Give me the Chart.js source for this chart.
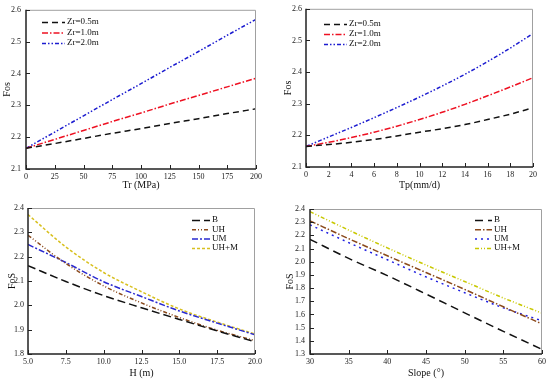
<!DOCTYPE html>
<html><head><meta charset="utf-8">
<script src="https://cdn.jsdelivr.net/npm/chart.js@4.4.1/dist/chart.umd.min.js"></script>
<style>
html,body{margin:0;padding:0;background:#fff;}
body{width:550px;height:380px;position:relative;overflow:hidden;}
canvas{position:absolute;display:block;}
</style></head><body>
<canvas id="c1" width="275" height="192" style="left:0;top:0"></canvas>
<canvas id="c2" width="275" height="192" style="left:275px;top:0"></canvas>
<canvas id="c3" width="275" height="188" style="left:0;top:192px"></canvas>
<canvas id="c4" width="275" height="188" style="left:275px;top:192px"></canvas>
<script>
// ---- Data ----
const trValues = [0, 25, 50, 75, 100, 125, 150, 175, 200];
const trZr05 = [2.165, 2.180, 2.196, 2.212, 2.227, 2.243, 2.258, 2.274, 2.289];
const trZr10 = [2.165, 2.193, 2.221, 2.249, 2.276, 2.304, 2.331, 2.358, 2.385];
const trZr20 = [2.165, 2.216, 2.267, 2.318, 2.368, 2.419, 2.469, 2.520, 2.570];

const tpValues = [0, 2, 4, 6, 8, 10, 12, 14, 16, 18, 20];
const tpZr05 = [2.165, 2.171, 2.178, 2.187, 2.198, 2.210, 2.221, 2.234, 2.250, 2.267, 2.287];
const tpZr10 = [2.165, 2.178, 2.193, 2.210, 2.229, 2.250, 2.273, 2.298, 2.325, 2.353, 2.382];
const tpZr20 = [2.165, 2.195, 2.225, 2.256, 2.288, 2.321, 2.356, 2.393, 2.433, 2.476, 2.522];

const hValues = [5, 7.5, 10, 12.5, 15, 17.5, 20];
const hB   = [2.163, 2.098, 2.040, 1.990, 1.942, 1.895, 1.850];
const hUH  = [2.288, 2.172, 2.080, 2.010, 1.950, 1.898, 1.855];
const hUM  = [2.250, 2.176, 2.097, 2.036, 1.977, 1.927, 1.879];
const hUHM = [2.373, 2.240, 2.135, 2.056, 1.985, 1.931, 1.882];

const slopeValues = [30, 35, 40, 45, 50, 55, 60];
const sB   = [2.170, 2.025, 1.895, 1.755, 1.612, 1.472, 1.335];
const sUH  = [2.310, 2.175, 2.045, 1.918, 1.790, 1.658, 1.528];
const sUM  = [2.280, 2.145, 2.015, 1.885, 1.765, 1.650, 1.552];
const sUHM = [2.380, 2.240, 2.105, 1.975, 1.850, 1.725, 1.610];

const zrLabels = ['Zr=0.5m', 'Zr=1.0m', 'Zr=2.0m'];
const caseLabels = ['B', 'UH', 'UM', 'UH+M'];

// ---- Plugins ----
const framePlugin = {
  id: 'frame',
  afterDatasetsDraw(chart) {
    const {left, right, top, bottom} = chart.chartArea;
    const ctx = chart.ctx;
    ctx.save();
    ctx.setLineDash([]);
    ctx.strokeStyle = '#a0a0a0'; ctx.lineWidth = 1;
    ctx.beginPath(); ctx.moveTo(left, top + 0.5); ctx.lineTo(right - 0.5, top + 0.5); ctx.lineTo(right - 0.5, bottom); ctx.stroke();
    ctx.strokeStyle = '#222'; ctx.lineWidth = 1.5;
    ctx.beginPath(); ctx.moveTo(left, top); ctx.lineTo(left, bottom); ctx.lineTo(right, bottom); ctx.stroke();
    ctx.lineWidth = 1;
    const xs = chart.scales.x, ys = chart.scales.y;
    xs.ticks.forEach(t => { const p = Math.round(xs.getPixelForValue(t.value)) + 0.5; ctx.beginPath(); ctx.moveTo(p, bottom); ctx.lineTo(p, bottom - 4); ctx.stroke(); });
    ys.ticks.forEach(t => { const p = Math.round(ys.getPixelForValue(t.value)) + 0.5; ctx.beginPath(); ctx.moveTo(left, p); ctx.lineTo(left + 4, p); ctx.stroke(); });
    ctx.restore();
  }
};
const legendPlugin = {
  id: 'lineLegend',
  afterDatasetsDraw(chart) {
    const o = chart.options.plugins.lineLegend; if (!o) return;
    const ctx = chart.ctx;
    ctx.save();
    chart.data.datasets.forEach((ds, i) => {
      const y = o.y + i * o.rowH;
      ctx.strokeStyle = ds.borderColor; ctx.lineWidth = ds.borderWidth;
      ctx.setLineDash(ds.borderDash || []);
      ctx.beginPath(); ctx.moveTo(o.x, y + 0.5); ctx.lineTo(o.x + o.len, y + 0.5); ctx.stroke();
      ctx.setLineDash([]);
      ctx.fillStyle = '#111'; ctx.font = '9px "Liberation Serif", "Times New Roman", serif';
      ctx.textBaseline = 'middle'; ctx.textAlign = 'left';
      ctx.fillText(ds.label, o.x + o.len + o.gap, y);
    });
    ctx.restore();
  }
};

const serif = '"Liberation Serif", "Times New Roman", serif';

function makeChart(id, cfg) {
  const datasets = cfg.series.map((s, i) => ({
    label: cfg.labels[i],
    data: cfg.xValues.map((x, j) => ({x: x, y: s[j]})),
    borderColor: cfg.colors[i],
    borderDash: cfg.dashes[i],
    borderWidth: 1.5,
    pointRadius: 0,
    fill: false,
    cubicInterpolationMode: 'monotone'
  }));
  return new Chart(document.getElementById(id), {
    type: 'line',
    data: {datasets},
    plugins: [framePlugin, legendPlugin],
    options: {
      responsive: false,
      animation: false,
      devicePixelRatio: 1,
      layout: {padding: {left: 0, top: cfg.padTop, right: cfg.padRight, bottom: 0}},
      plugins: {legend: {display: false}, tooltip: {enabled: false}, lineLegend: cfg.legend},
      scales: {
        x: {
          type: 'linear', min: cfg.xMin, max: cfg.xMax,
          grid: {display: false, drawTicks: false}, border: {display: false},
          ticks: {stepSize: cfg.xStep, autoSkip: false, maxRotation: 0, padding: 3, color: '#222',
                  font: {family: serif, size: 8}, callback: cfg.xFmt},
          title: {display: true, text: cfg.xTitle, color: '#111', font: {family: serif, size: 10}, padding: {top: 0, bottom: cfg.xTitlePad}},
          afterFit: s => { s.height = cfg.xHeight; }
        },
        y: {
          type: 'linear', min: cfg.yMin, max: cfg.yMax,
          grid: {display: false, drawTicks: false}, border: {display: false},
          ticks: {stepSize: 0.1, autoSkip: false, padding: cfg.yTickPad, color: '#222',
                  font: {family: serif, size: 8}, callback: v => v.toFixed(1)},
          title: {display: true, text: cfg.yTitle, color: '#111', font: {family: serif, size: 10}, padding: {top: cfg.yTitlePad, bottom: 0}},
          afterFit: s => { s.width = cfg.yWidth; }
        }
      }
    }
  });
}

const zrColors = ['#111111', '#ee1122', '#1c1cd0'];
const zrDashes = [[6, 4], [6, 2, 1.5, 2], [4, 2, 1.5, 2, 1.5, 2]];

makeChart('c1', {
  xValues: trValues, series: [trZr05, trZr10, trZr20], labels: zrLabels,
  colors: zrColors, dashes: zrDashes,
  xMin: 0, xMax: 200, xStep: 25, xFmt: v => String(v), xTitle: 'Tr (MPa)',
  yMin: 2.1, yMax: 2.6, yTitle: 'Fos',
  padTop: 6, padRight: 19, yWidth: 26, xHeight: 23, yTickPad: 5, yTitlePad: 1, xTitlePad: 1,
  legend: {x: 42, y: 22, len: 23, gap: 2, rowH: 10.5}
});
makeChart('c2', {
  xValues: tpValues, series: [tpZr05, tpZr10, tpZr20], labels: zrLabels,
  colors: zrColors, dashes: zrDashes,
  xMin: 0, xMax: 20, xStep: 2, xFmt: v => String(v), xTitle: 'Tp(mm/d)',
  yMin: 2.1, yMax: 2.6, yTitle: 'Fos',
  padTop: 7, padRight: 17, yWidth: 31, xHeight: 25, yTickPad: 4, yTitlePad: 7, xTitlePad: 1,
  legend: {x: 49, y: 24, len: 23, gap: 2, rowH: 10}
});
makeChart('c3', {
  xValues: hValues, series: [hB, hUH, hUM, hUHM], labels: caseLabels,
  colors: ['#111111', '#8b4a1c', '#2a2ad0', '#d8c020'],
  dashes: [[8, 4], [4, 2, 1, 2, 1, 2], [6, 2, 2, 2], [3, 2]],
  xMin: 5, xMax: 20, xStep: 2.5, xFmt: v => v.toFixed(1), xTitle: 'H (m)',
  yMin: 1.8, yMax: 2.4, yTitle: 'FoS',
  padTop: 16, padRight: 20, yWidth: 28, xHeight: 26, yTickPad: 4, yTitlePad: 6, xTitlePad: 1,
  legend: {x: 192, y: 28, len: 18, gap: 2, rowH: 9.3}
});
makeChart('c4', {
  xValues: slopeValues, series: [sB, sUH, sUM, sUHM], labels: caseLabels,
  colors: ['#111111', '#8b4a1c', '#2020e0', '#c8c800'],
  dashes: [[8, 5], [6, 2, 1.5, 2], [2, 4], [4, 2, 1, 2, 1, 2]],
  xMin: 30, xMax: 60, xStep: 5, xFmt: v => String(v), xTitle: 'Slope (°)',
  yMin: 1.3, yMax: 2.4, yTitle: 'FoS',
  padTop: 17, padRight: 8, yWidth: 35, xHeight: 26, yTickPad: 5, yTitlePad: 9, xTitlePad: 1,
  legend: {x: 200, y: 28, len: 17, gap: 2, rowH: 9.3}
});
</script>
</body></html>
